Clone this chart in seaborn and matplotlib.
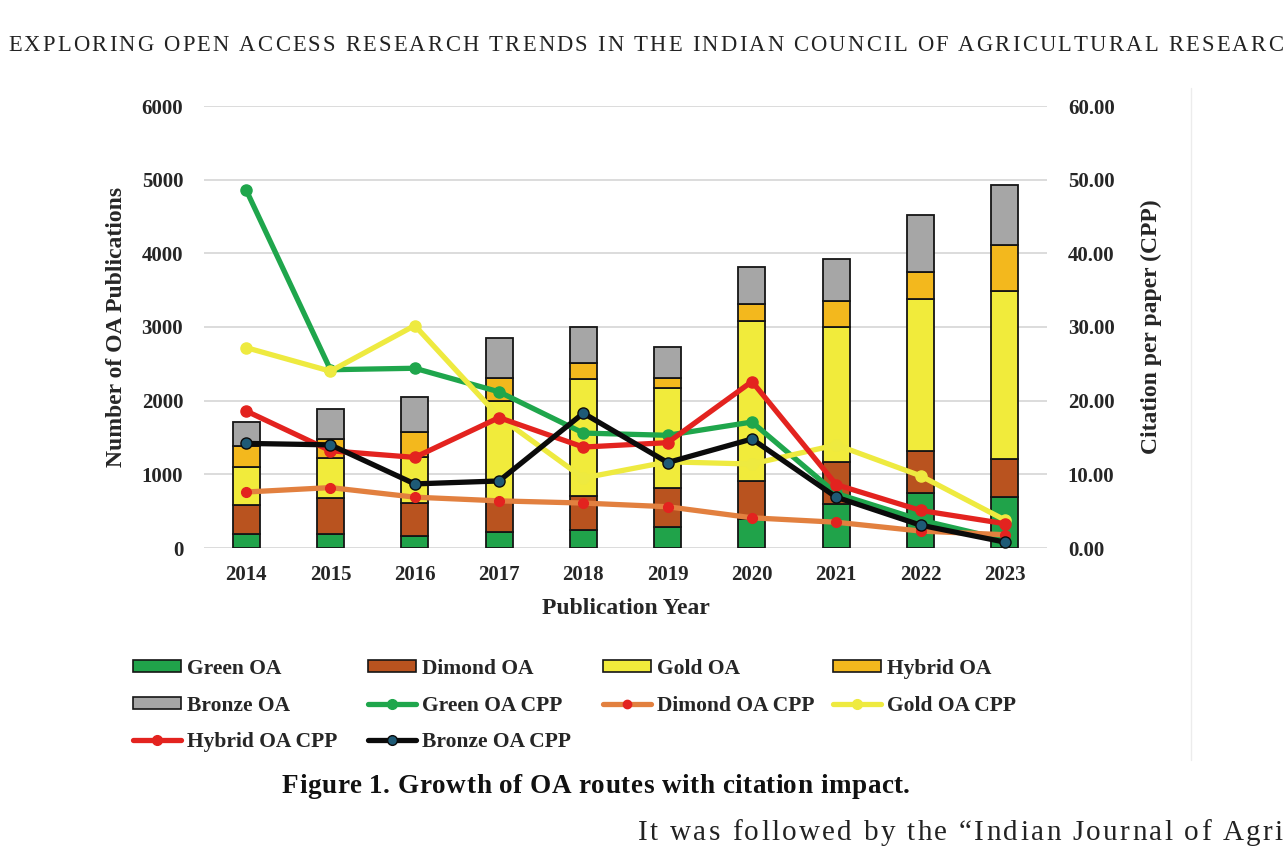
import numpy as np
import pandas as pd
import matplotlib
matplotlib.use("Agg")
import matplotlib.pyplot as plt
import seaborn as sns
from matplotlib.patches import Patch
from matplotlib.lines import Line2D

# ---------------- data ----------------
years = ['2014', '2015', '2016', '2017', '2018', '2019', '2020', '2021', '2022', '2023']
green_oa = [186, 186, 167, 222, 244, 290, 400, 593, 751, 697]
dimond_oa = [402, 488, 448, 400, 466, 520, 510, 570, 570, 507]
gold_oa = [507, 543, 625, 1378, 1589, 1357, 2177, 1841, 2055, 2285]
hybrid_oa = [294, 258, 330, 308, 217, 141, 226, 353, 366, 624]
bronze_oa = [321, 407, 484, 543, 488, 425, 507, 561, 778, 814]

green_cpp = [48.6, 24.2, 24.4, 21.2, 15.6, 15.3, 17.1, 7.4, 3.8, 1.1]
dimond_cpp = [7.6, 8.2, 6.9, 6.4, 6.1, 5.6, 4.1, 3.5, 2.3, 1.8]
gold_cpp = [27.2, 24.0, 30.2, 17.8, 9.5, 11.7, 11.4, 14.0, 9.8, 3.8]
hybrid_cpp = [18.6, 13.2, 12.3, 17.7, 13.7, 14.3, 22.6, 8.6, 5.1, 3.3]
bronze_cpp = [14.2, 14.0, 8.7, 9.1, 18.3, 11.6, 14.8, 6.9, 3.1, 0.8]

left_ticks = [0, 1000, 2000, 3000, 4000, 5000, 6000]
right_ticks = [0, 10, 20, 30, 40, 50, 60]

bar_names = ['Green OA', 'Dimond OA', 'Gold OA', 'Hybrid OA', 'Bronze OA']
line_names = ['Green OA CPP', 'Dimond OA CPP', 'Gold OA CPP', 'Hybrid OA CPP', 'Bronze OA CPP']

header = "EXPLORING OPEN ACCESS RESEARCH TRENDS IN THE INDIAN COUNCIL OF AGRICULTURAL RESEARC"
caption = "Figure 1. Growth of OA routes with citation impact."
body = "It was followed by the \u201cIndian Journal of Agri"

# ---------------- style ----------------
bar_colors = ['#20a34a', '#b9531f', '#f1eb3b', '#f3b81d', '#a6a6a6']
line_colors = ['#1fa64c', '#e2803f', '#eeea40', '#e3231f', '#0b0b0b']
marker_face = ['#1fa64c', '#e3231f', '#eeea40', '#e3231f', '#1e5a76']
marker_edge = ['#1fa64c', '#e3231f', '#eeea40', '#e3231f', '#0b0b0b']
marker_size = [8, 7, 8, 8, 8]

sns.set_theme(style="white")
SERIF = ['Liberation Serif', 'DejaVu Serif']
plt.rcParams['font.family'] = SERIF

W, H = 1285, 850
fig = plt.figure(figsize=(W / 100, H / 100), dpi=100)
fig.patch.set_facecolor('white')

def fx(px):
    return px / W

def fy(py):
    return 1 - py / H

AX_L, AX_R, AX_T, AX_B = 204, 1047, 106, 548
ax = fig.add_axes([fx(AX_L), fy(AX_B), fx(AX_R) - fx(AX_L), fy(AX_T) - fy(AX_B)])
ax.set_facecolor('white')

df = pd.DataFrame({'year': years, 'Green OA': green_oa, 'Dimond OA': dimond_oa,
                   'Gold OA': gold_oa, 'Hybrid OA': hybrid_oa, 'Bronze OA': bronze_oa})
bottom = np.zeros(len(years))
for name, col in zip(bar_names, bar_colors):
    sns.barplot(data=df, x='year', y=name, ax=ax, color=col, width=0.32,
                bottom=bottom, edgecolor='#151515', linewidth=1.3, saturation=1,
                zorder=3)
    bottom = bottom + df[name].values

ax.set_ylim(0, 6000)
ax.set_xlim(-0.5, len(years) - 0.5)
ax.set_yticks(left_ticks)
ax.yaxis.grid(True, color='#d9d9d9', linewidth=1.3, zorder=0)
ax.xaxis.grid(False)
ax.set_axisbelow(True)
for s in ax.spines.values():
    s.set_visible(False)
ax.tick_params(axis='both', length=0, labelsize=15)
ax.tick_params(axis='y', pad=15)
ax.tick_params(axis='x', pad=12)
for lab in ax.get_xticklabels() + ax.get_yticklabels():
    lab.set_fontweight('bold')
ax.set_ylabel('Number of OA Publications', fontsize=17, fontweight='bold')
ax.set_xlabel('Publication Year', fontsize=17, fontweight='bold')
axw, axh = AX_R - AX_L, AX_B - AX_T
ax.yaxis.set_label_coords((127 - AX_L) / axw, 0.5)
ax.xaxis.set_label_coords(0.5, -(598 - AX_B) / axh)

ax2 = ax.twinx()
cpp_series = [green_cpp, dimond_cpp, gold_cpp, hybrid_cpp, bronze_cpp]
for i, (name, vals) in enumerate(zip(line_names, cpp_series)):
    d = pd.DataFrame({'year': years, 'cpp': vals})
    sns.pointplot(data=d, x='year', y='cpp', ax=ax2, color=line_colors[i],
                  errorbar=None, markers='o', linestyles='-',
                  linewidth=3.8, markersize=marker_size[i],
                  markerfacecolor=marker_face[i], markeredgecolor=marker_edge[i],
                  markeredgewidth=1.0)
ax2.set_ylim(0, 60)
ax2.set_xlim(-0.5, len(years) - 0.5)
ax2.set_yticks(right_ticks)
ax2.set_yticklabels([f'{v:.2f}' for v in right_ticks])
ax2.grid(False)
for s in ax2.spines.values():
    s.set_visible(False)
ax2.tick_params(axis='y', length=0, labelsize=15, pad=15)
for lab in ax2.get_yticklabels():
    lab.set_fontweight('bold')
ax2.set_ylabel('Citation per paper (CPP)', fontsize=17, fontweight='bold')
ax2.yaxis.set_label_coords((1141 - AX_L) / axw, 0.5)
ax2.set_xlabel('')

# ---------------- legend (row-major, 4 columns) ----------------
bar_handles = [Patch(facecolor=c, edgecolor='#151515', linewidth=1.2) for c in bar_colors]
line_handles = [Line2D([0], [0], color=line_colors[i], lw=3.8, marker='o',
                       markersize=marker_size[i] - 1, markerfacecolor=marker_face[i],
                       markeredgecolor=marker_edge[i]) for i in range(5)]
all_handles = bar_handles + line_handles
all_labels = bar_names + line_names
col_x = [133, 368, 603, 833]
for c in range(4):
    idx = list(range(c, len(all_handles), 4))
    fig.legend([all_handles[k] for k in idx], [all_labels[k] for k in idx],
               loc='upper left', bbox_to_anchor=(fx(col_x[c]), fy(659)),
               frameon=False, ncol=1, handlelength=2.25, handleheight=0.5,
               handletextpad=0.28, labelspacing=0.77, borderpad=0, borderaxespad=0,
               prop={'family': SERIF, 'weight': 'bold', 'size': 15.5})

# faint border line on the right of the chart picture
fig.add_artist(Line2D([fx(1191), fx(1191)], [fy(88), fy(760)], color='#ececec', lw=1.0))

# ---------------- page text with tracking ----------------
renderer = fig.canvas.get_renderer()

def text_w(s, size, weight):
    t = fig.text(0, 0, s, fontsize=size, fontweight=weight, family=SERIF)
    w = t.get_window_extent(renderer).width
    t.remove()
    return w

def tracked(s, x0, x1, y_base, size, weight='normal', color='#222222'):
    space_w = text_w('a a', size, weight) - text_w('aa', size, weight)
    widths = [space_w if ch == ' ' else text_w(ch, size, weight) for ch in s]
    natural = sum(widths)
    track = ((x1 - x0) - natural) / (len(s) - 1)
    x = x0
    for ch, w in zip(s, widths):
        if ch != ' ':
            fig.text(fx(x), fy(y_base), ch, fontsize=size, fontweight=weight,
                     family=SERIF, ha='left', va='baseline', color=color)
        x += w + track

tracked(header, 8, 1283, 51, 16.3)
tracked(caption, 282, 910, 793, 19.5, weight='bold', color='#111111')
tracked(body, 638, 1283, 840, 21)

fig.savefig('out.png', dpi=100, facecolor='white')
